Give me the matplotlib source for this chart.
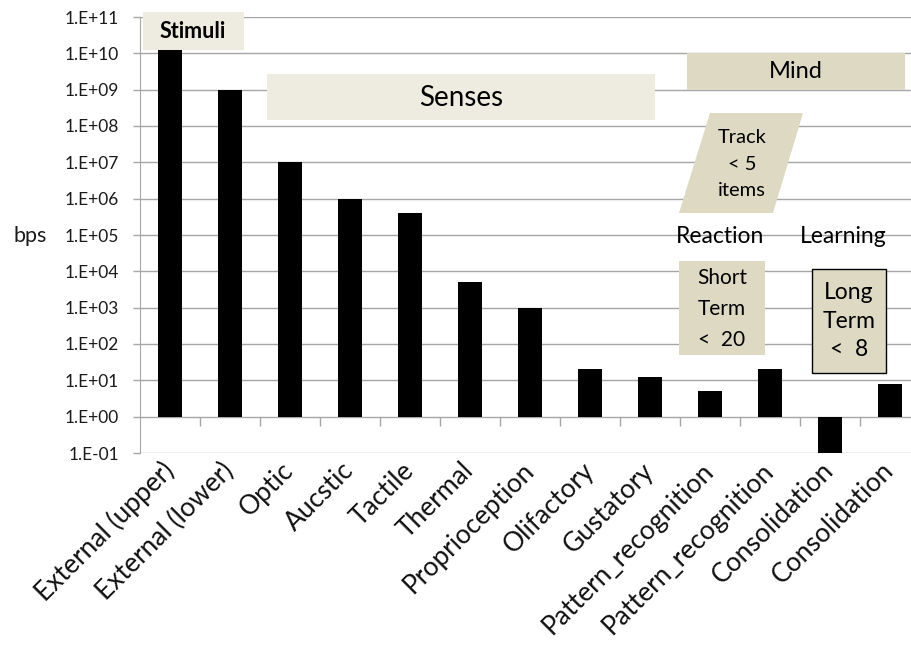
import numpy as np
import matplotlib.pyplot as plt
from matplotlib.patches import Rectangle, Polygon
from matplotlib.ticker import FixedLocator, FuncFormatter

plt.rcParams['font.family'] = ['Lato', 'DejaVu Sans']

# data (bits per second, log scale, bars start at 1)
categories = ['External (upper)', 'External (lower)', 'Optic', 'Aucstic', 'Tactile',
              'Thermal', 'Proprioception', 'Olifactory', 'Gustatory',
              'Pattern_recognition', 'Pattern_recognition', 'Consolidation',
              'Consolidation']
bps = [1.2e10, 1e9, 1e7, 1e6, 4e5, 5e3, 1e3, 20, 12.5, 5, 20, 0.1, 8]
exponents = list(range(-1, 12))

W, H = 912, 648
fig = plt.figure(figsize=(W / 100, H / 100), dpi=100)
ax = fig.add_axes([140 / W, 195 / H, 772 / W, 436 / H])

def fx(px):
    return px / W

def fy(py):
    return 1 - py / H

x = np.arange(len(categories))
base = 1.0
ax.bar(x, [v - base for v in bps], bottom=base, width=0.4, color='black', zorder=3)

ax.set_yscale('log')
ax.set_ylim(10.0 ** exponents[0], 10.0 ** exponents[-1])
ax.set_xlim(-0.5, -0.5 + 772 / 60)

# gridlines at every decade
for e in exponents:
    ax.axhline(10.0 ** e, color='#a6a6a6', lw=1.0, zorder=1)
# category tick marks hanging below the 1.E+00 axis
ax.vlines(x[:-1] + 0.5, 10 ** -0.27, 1, color='#a6a6a6', lw=1.0, zorder=1)

ax.yaxis.set_major_locator(FixedLocator([10.0 ** e for e in exponents]))
ax.yaxis.set_minor_locator(FixedLocator([]))
ax.yaxis.set_major_formatter(FuncFormatter(lambda v, p: '1.E%+03d' % round(np.log10(v))))
ax.tick_params(axis='y', length=5, width=1, color='#a6a6a6', labelsize=12.5,
               labelcolor='#1a1a1a', pad=10)

ax.set_xticks(x)
ax.set_xticklabels(categories, rotation=45, ha='right', va='center',
                   rotation_mode='anchor', fontsize=19, color='#111111')
ax.tick_params(axis='x', length=0, pad=10)

for s in ['top', 'right', 'bottom']:
    ax.spines[s].set_visible(False)
ax.spines['left'].set_color('#a6a6a6')

light = '#eeece1'
dark = '#ddd9c3'

def box(x0, y0, x1, y1, color, edge=None):
    r = Rectangle((fx(x0), fy(y1)), fx(x1) - fx(x0), fy(y0) - fy(y1),
                  transform=fig.transFigure, facecolor=color,
                  edgecolor=edge if edge else 'none', lw=1.0, zorder=5)
    fig.patches.append(r)

box(143, 12, 244, 50, light)
fig.text(fx(193), fy(31), 'Stimuli', fontsize=15.5, fontweight='bold',
         ha='center', va='center', zorder=6)

box(267, 74, 655, 120, light)
fig.text(fx(461), fy(98), 'Senses', fontsize=20, ha='center', va='center', zorder=6)

box(687, 53, 905, 90, dark)
fig.text(fx(796), fy(72), 'Mind', fontsize=17, ha='center', va='center', zorder=6)

para = Polygon([(fx(710), fy(113)), (fx(803), fy(113)), (fx(773), fy(213)), (fx(679), fy(213))],
               closed=True, transform=fig.transFigure, facecolor=dark,
               edgecolor='none', zorder=5)
fig.patches.append(para)
fig.text(fx(742), fy(164), 'Track\n< 5\nitems', fontsize=14.5, ha='center', va='center',
         linespacing=1.7, zorder=6)

fig.text(fx(720), fy(236), 'Reaction', fontsize=16.5, ha='center', va='center')
fig.text(fx(843), fy(236), 'Learning', fontsize=16.5, ha='center', va='center')

box(679, 261, 765, 355, dark)
fig.text(fx(722), fy(309), 'Short\nTerm\n<  20', fontsize=15, ha='center', va='center',
         linespacing=1.7, zorder=6)

box(812, 269, 886, 373, dark, edge='black')
fig.text(fx(849), fy(321), 'Long\nTerm\n<  8', fontsize=16.5, ha='center', va='center',
         linespacing=1.45, zorder=6)

fig.text(fx(30), fy(236), 'bps', fontsize=15.5, ha='center', va='center', color='#1a1a1a')

fig.savefig('out.png', dpi=100)
